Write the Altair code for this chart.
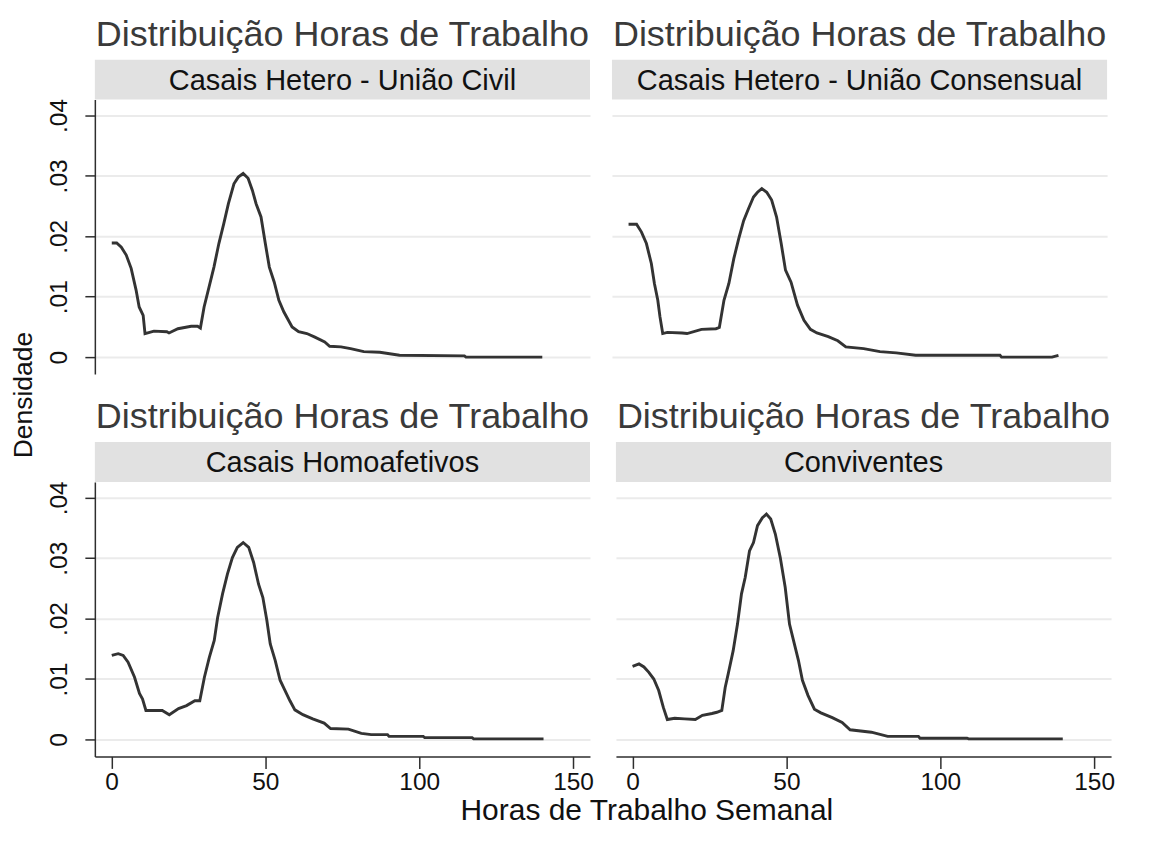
import altair as alt
import pandas as pd

FONT = "Liberation Sans"
TITLE = "Distribuição Horas de Trabalho"
X_TITLE = "Horas de Trabalho Semanal"
Y_TITLE = "Densidade"

labels = ["Casais Hetero - União Civil", "Casais Hetero - União Consensual",
          "Casais Homoafetivos", "Conviventes"]

x_ticks = [0, 50, 100, 150]
y_ticks = [0, 0.01, 0.02, 0.03, 0.04]

h1 = [0.1, 1.7, 3.2, 4.8, 6.4, 8.0, 9.0, 10.3, 10.9, 13.8, 18.0, 18.7, 21.6, 25.9, 28.0,
      28.9, 30.1, 31.7, 33.3, 34.9, 36.5, 38.0, 39.8, 41.2, 42.8, 44.4, 45.8, 47.0, 48.6,
      50.0, 51.3, 52.9, 54.4, 56.0, 58.7, 60.8, 63.5, 66.1, 69.3, 70.9, 74.6, 77.7, 82.0,
      87.2, 93.6, 114.7, 115.2, 140.0]
d1 = [.0189, .0189, .0182, .0169, .0147, .0111, .0083, .0069, .0039, .0043, .0042, .0040,
      .0047, .0051, .0051, .0048, .0083, .0116, .0149, .0188, .0221, .0254, .0287, .0298,
      .0304, .0296, .0276, .0254, .0232, .0188, .0149, .0124, .0094, .0075, .0050, .0042,
      .0039, .0033, .0025, .0018, .0017, .0014, .0009, .0008, .0003, .0002, .0000, .0000]

h2 = [0.0, 2.6, 4.2, 5.8, 7.4, 8.4, 9.5, 10.2, 11.1, 12.6, 17.4, 19.0, 23.7, 28.4, 29.5,
      31.0, 32.6, 34.2, 35.8, 37.4, 39.0, 40.6, 41.9, 43.3, 44.9, 46.5, 48.1, 49.6, 51.0,
      52.8, 54.9, 57.0, 59.1, 61.2, 64.9, 68.0, 70.6, 76.4, 81.7, 87.0, 93.3, 120.7, 121.2,
      137.6, 139.7]
d2 = [.0220, .0220, .0207, .0188, .0155, .0122, .0094, .0067, .0039, .0041, .0040, .0039,
      .0046, .0047, .0049, .0094, .0122, .0163, .0196, .0226, .0246, .0265, .0273, .0279,
      .0273, .0260, .0232, .0188, .0144, .0124, .0086, .0061, .0046, .0040, .0034, .0027,
      .0017, .0014, .0009, .0007, .0003, .0003, .0000, .0000, .0003]

h3 = [0.1, 2.2, 3.8, 5.4, 7.5, 9.1, 10.1, 11.2, 16.5, 18.8, 21.8, 24.4, 27.1, 28.7, 30.2,
      31.8, 33.4, 34.5, 36.1, 37.7, 39.3, 40.9, 42.8, 44.6, 46.2, 47.8, 49.2, 50.5, 51.6,
      53.2, 54.8, 56.1, 58.0, 59.6, 62.2, 65.4, 69.1, 71.2, 77.0, 81.2, 84.4, 89.7, 90.2,
      101.3, 101.8, 117.2, 117.7, 140.4]
d3 = [.0139, .0142, .0139, .0128, .0103, .0076, .0067, .0048, .0048, .0041, .0051, .0056,
      .0064, .0064, .0103, .0136, .0164, .0202, .0241, .0274, .0301, .0318, .0326, .0318,
      .0293, .0257, .0235, .0197, .0158, .0131, .0098, .0084, .0064, .0049, .0041, .0034,
      .0027, .0018, .0017, .0010, .0008, .0008, .0005, .0005, .0003, .0003, .0001, .0001]

h4 = [0.0, 2.1, 3.7, 5.3, 6.9, 8.5, 10.0, 11.3, 13.7, 16.9, 20.4, 22.7, 25.8, 27.4, 29.0,
      30.1, 31.1, 32.7, 34.1, 35.4, 36.6, 38.0, 39.3, 40.6, 42.2, 43.5, 44.9, 46.4, 48.0,
      49.6, 51.0, 52.3, 53.9, 55.2, 57.0, 59.1, 61.2, 64.9, 68.1, 70.7, 77.6, 82.9, 92.9,
      93.4, 108.7, 109.2, 139.8]
d4 = [.0121, .0125, .0120, .0111, .0100, .0081, .0053, .0033, .0035, .0034, .0033, .0040,
      .0043, .0045, .0048, .0086, .0109, .0147, .0191, .0241, .0268, .0312, .0326, .0354,
      .0367, .0373, .0365, .0340, .0301, .0252, .0191, .0164, .0131, .0098, .0073, .0050,
      .0044, .0036, .0028, .0016, .0012, .0005, .0005, .0002, .0002, .0001, .0001]

hours = [h1, h2, h3, h4]
dens = [d1, d2, d3, d4]

W, H = 496, 275
TA, SH = 51, 40          # title area and strip height inside each header
XDOM = [-5.4, 155.5]
YDOM = [-0.00281, 0.04264]
DARK = "#2e2e2e"
GRID = "#ebebeb"
TICKFS = 24.5


def panel(i, row, col):
    df = pd.DataFrame({"h": hours[i], "d": dens[i]})
    if row == 1:
        xax = alt.Axis(values=x_ticks, grid=False, domain=True, domainColor=DARK,
                       domainWidth=1.5, ticks=True, tickSize=12, tickColor=DARK,
                       tickWidth=1.5, labelFontSize=TICKFS, labelFont=FONT,
                       labelColor="#111111", labelPadding=2, title=None,
                       labelFlush=False, labelOverlap=False)
    else:
        xax = None
    if col == 0:
        yax = alt.Axis(values=y_ticks, grid=True, gridColor=GRID, gridWidth=2,
                       domain=True, domainColor=DARK, domainWidth=1.5, ticks=True,
                       tickSize=10, tickColor=DARK, tickWidth=1.5, labelAngle=-90,
                       labelFontSize=TICKFS, labelFont=FONT, labelColor="#111111",
                       labelPadding=13, labelFlush=False, labelOverlap=False,
                       labelExpr="datum.value == 0 ? '0' : replace(format(datum.value, '.2f'), '0.', '.')",
                       title=None)
    else:
        yax = alt.Axis(values=y_ticks, grid=True, gridColor=GRID, gridWidth=2,
                       domain=False, ticks=False, labels=False, title=None)
    line = alt.Chart(df).mark_line(color="#333333", strokeWidth=2.9).encode(
        x=alt.X("h:Q", scale=alt.Scale(domain=XDOM, nice=False, zero=False), axis=xax),
        y=alt.Y("d:Q", scale=alt.Scale(domain=YDOM, nice=False, zero=False), axis=yax),
    ).properties(width=W, height=H)

    sdf = pd.DataFrame({"t": [labels[i]], "title": [TITLE]})
    header = alt.layer(
        alt.Chart(sdf).mark_text(font=FONT, fontSize=36, color="#3a3a3a",
                                 baseline="alphabetic").encode(
            text="title:N", x=alt.value(W / 2), y=alt.value(37.5)),
        alt.Chart(sdf).mark_rect(color="#e1e1e1").encode(
            x=alt.value(0), x2=alt.value(W), y=alt.value(TA), y2=alt.value(TA + SH)),
        alt.Chart(sdf).mark_text(font=FONT, fontSize=29, color="#111111").encode(
            text="t:N", x=alt.value(W / 2), y=alt.value(TA + SH / 2 + 1)),
    ).properties(width=W, height=TA + SH)

    return alt.vconcat(header, line, spacing=0, bounds="flush")


row1 = alt.hconcat(panel(0, 0, 0), panel(1, 0, 1), spacing=22)
row2 = alt.hconcat(panel(2, 1, 0), panel(3, 1, 1), spacing=22)
grid = alt.vconcat(row1, row2, spacing=17)

xt = alt.Chart(pd.DataFrame({"t": [X_TITLE]})).mark_text(
    font=FONT, fontSize=30, color="#111111").encode(
    text="t:N", x=alt.value(553), y=alt.value(17)).properties(width=1060, height=24)

body = alt.vconcat(grid, xt, spacing=0)

yt = alt.Chart(pd.DataFrame({"t": [Y_TITLE]})).mark_text(
    font=FONT, fontSize=26.5, color="#111111", angle=270).encode(
    text="t:N", x=alt.value(16), y=alt.value(387)).properties(width=30, height=680)

chart = alt.hconcat(yt, body, spacing=9).properties(padding=0).configure_view(
    strokeWidth=0)

chart.save("out.html", embed_options={"renderer": "svg", "actions": False})
